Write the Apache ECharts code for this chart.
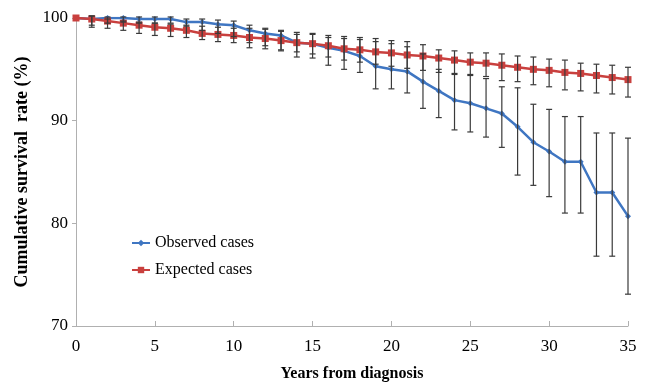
<!DOCTYPE html>
<html><head><meta charset="utf-8">
<script src="https://cdn.jsdelivr.net/npm/echarts@6/dist/echarts.min.js"></script>
<style>html,body{margin:0;padding:0;background:#fff}#c{width:646px;height:387px}</style>
</head><body><div id="c"></div>
<script>
const years = [0,1,2,3,4,5,6,7,8,9,10,11,12,13,14,15,16,17,18,19,20,21,22,23,24,25,26,27,28,29,30,31,32,33,34,35];
const observed = [100,99.9,100,100,99.9,99.9,99.9,99.6,99.6,99.4,99.3,98.8,98.5,98.3,97.6,97.5,97.1,96.8,96.3,95.3,95.0,94.8,93.8,92.9,92.0,91.7,91.2,90.7,89.4,87.9,87.0,86.0,86.0,83.0,83.0,80.7];
const observedHigh = [100,100.2,100.1,100.1,100.1,100.1,100.1,99.9,99.9,99.8,99.7,99.3,99.0,98.8,98.4,98.4,98.1,98.0,97.9,97.7,97.5,97.2,96.5,95.0,94.6,94.4,94.1,93.3,93.2,91.6,91.1,90.4,90.4,88.8,88.8,88.3];
const observedLow = [100,99.3,99.5,99.6,99.5,99.5,99.5,99.2,98.8,98.5,98.2,97.6,97.3,96.8,96.2,96.1,95.4,95.0,94.7,93.1,93.1,92.7,91.2,90.3,89.1,88.9,88.4,87.4,84.7,83.7,82.6,81.0,81.0,76.8,76.8,73.1];
const expected = [100,99.9,99.7,99.5,99.3,99.1,99.0,98.8,98.5,98.4,98.3,98.1,98.0,97.8,97.6,97.5,97.3,97.0,96.9,96.7,96.6,96.4,96.3,96.1,95.9,95.7,95.6,95.4,95.2,95.0,94.9,94.7,94.6,94.4,94.2,94.0];
const expectedHigh = [100,100.2,99.9,99.7,99.6,99.5,99.4,99.3,99.2,99.1,99.0,99.0,98.9,98.7,98.6,98.5,98.3,98.2,98.1,98.0,97.8,97.7,97.4,96.9,96.8,96.6,96.6,96.5,96.3,96.2,96.0,95.9,95.6,95.5,95.4,95.2];
const expectedLow = [100,99.1,99.0,98.8,98.5,98.3,98.2,98.1,97.9,97.7,97.6,97.1,97.0,96.9,96.7,96.5,96.2,95.9,95.7,95.5,95.3,95.1,94.9,94.7,94.5,94.5,94.3,93.9,93.8,93.5,93.3,93.0,92.9,92.7,92.6,92.3];
const xTicks = [0,5,10,15,20,25,30,35];
const yTicks = [70,80,90,100];

const SERIF = '"Times New Roman","Liberation Serif",serif';
const obsPts = years.map((y,i)=>[y, observed[i]]);
const expPts = years.map((y,i)=>[y, expected[i]]);
const errData = [];
years.forEach((y,i)=>{
  if (observedHigh[i] !== observedLow[i]) errData.push([y, observedLow[i], observedHigh[i]]);
  if (expectedHigh[i] !== expectedLow[i]) errData.push([y, expectedLow[i], expectedHigh[i]]);
});

function renderErr(params, api){
  const x = api.value(0);
  const lo = api.coord([x, api.value(1)]);
  const hi = api.coord([x, api.value(2)]);
  const w = 3;
  const st = {stroke:'#3a3a3a', lineWidth:1.2};
  return {type:'group', children:[
    {type:'line', shape:{x1:lo[0],y1:lo[1],x2:hi[0],y2:hi[1]}, style:st},
    {type:'line', shape:{x1:lo[0]-w,y1:lo[1],x2:lo[0]+w,y2:lo[1]}, style:st},
    {type:'line', shape:{x1:hi[0]-w,y1:hi[1],x2:hi[0]+w,y2:hi[1]}, style:st}
  ]};
}

const chart = echarts.init(document.getElementById('c'), null, {renderer:'canvas'});
chart.setOption({
  animation:false,
  backgroundColor:'#fff',
  grid:{left:76, right:18, top:18, bottom:54, containLabel:false},
  legend:{
    orient:'vertical', left:126, top:230, itemGap:11, itemWidth:18, itemHeight:8,
    textStyle:{fontFamily:SERIF, fontSize:16, color:'#000'},
    data:['Observed cases','Expected cases']
  },
  xAxis:{
    type:'value', min:0, max:35, interval:5,
    name:'Years from diagnosis', nameLocation:'middle', nameGap:40,
    nameTextStyle:{fontFamily:SERIF, fontSize:16, fontWeight:'bold', color:'#000'},
    axisLine:{show:true, lineStyle:{color:'#b0b0b0', width:1}},
    axisTick:{show:true, inside:true, length:5, lineStyle:{color:'#b0b0b0'}},
    axisLabel:{fontFamily:SERIF, fontSize:17, color:'#000', margin:12},
    splitLine:{show:false}
  },
  yAxis:{
    type:'value', min:70, max:100, interval:10,
    name:'Cumulative survival  rate (%)', nameLocation:'middle', nameGap:45,
    nameTextStyle:{fontFamily:SERIF, fontSize:18, fontWeight:'bold', color:'#000'},
    axisLine:{show:true, lineStyle:{color:'#b0b0b0', width:1}},
    axisTick:{show:true, inside:false, length:4, lineStyle:{color:'#b0b0b0'}},
    axisLabel:{fontFamily:SERIF, fontSize:17, color:'#000', margin:8},
    splitLine:{show:false}
  },
  series:[
    {name:'Observed cases', type:'line', data:obsPts, symbol:'diamond', symbolSize:6,
     itemStyle:{color:'#3F76C2'}, lineStyle:{color:'#3F76C2', width:2.5}, z:3},
    {name:'Expected cases', type:'line', data:expPts, symbol:'rect', symbolSize:7,
     itemStyle:{color:'#C9403E'}, lineStyle:{color:'#C9403E', width:2.5}, z:4},
    {name:'err', type:'custom', data:errData, renderItem:renderErr, z:5, silent:true}
  ]
});
</script></body></html>
